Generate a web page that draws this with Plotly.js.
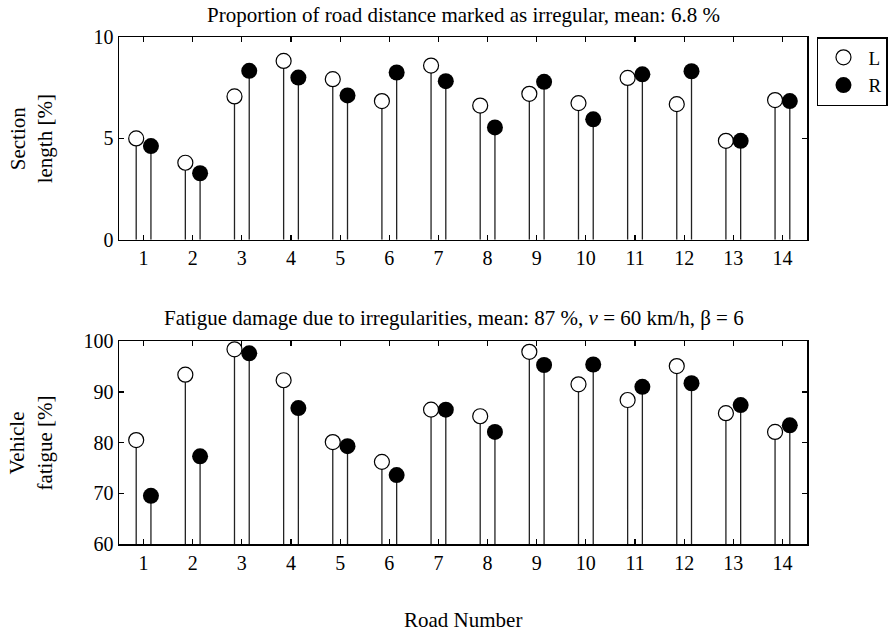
<!DOCTYPE html>
<html>
<head>
<meta charset="utf-8">
<script src="https://cdn.plot.ly/plotly-3.0.1.min.js"></script>
<style>html,body{margin:0;padding:0;background:#fff;}#chart{width:891px;height:633px;}</style>
</head>
<body>
<div id="chart"></div>
<script>
// Road numbers
const roads = [1,2,3,4,5,6,7,8,9,10,11,12,13,14];
// Section length [%] (top panel)
const sectionL = [5.0, 3.8, 7.07, 8.82, 7.92, 6.84, 8.59, 6.62, 7.2, 6.74, 7.98, 6.69, 4.88, 6.89];
const sectionR = [4.62, 3.28, 8.33, 8.0, 7.12, 8.25, 7.82, 5.54, 7.79, 5.94, 8.16, 8.31, 4.88, 6.84];
// Vehicle fatigue [%] (bottom panel)
const fatigueL = [80.5, 93.4, 98.4, 92.3, 80.1, 76.2, 86.5, 85.2, 97.9, 91.5, 88.4, 95.1, 85.8, 82.1];
const fatigueR = [69.5, 77.3, 97.6, 86.8, 79.3, 73.6, 86.5, 82.1, 95.3, 95.4, 91.0, 91.7, 87.4, 83.4];
const topBase = 0, bottomBase = 60;
const offset = 0.15;

const FONT = "'Liberation Serif', 'Times New Roman', serif";
const FS = 20;
const TFS = 21;
const xL = roads.map(r => r - offset);
const xR = roads.map(r => r + offset);

function stemTrace(x, y, base, name, filled, xa, ya, show) {
  return {
    type: 'scatter', mode: 'markers', x: x, y: y, name: name,
    xaxis: xa, yaxis: ya, showlegend: show, cliponaxis: false,
    marker: {symbol: 'circle', size: filled ? 16 : 15,
             color: filled ? '#000' : '#fff',
             line: {color: '#000', width: filled ? 0 : 1.2}},
    error_y: {type: 'data', symmetric: false,
              array: y.map(() => 0), arrayminus: y.map(v => v - base),
              width: 0, thickness: 1.3, color: '#222'}
  };
}

const data = [
  stemTrace(xL, sectionL, topBase, 'L', false, 'x', 'y', true),
  stemTrace(xR, sectionR, topBase, 'R', true, 'x', 'y', true),
  stemTrace(xL, fatigueL, bottomBase, 'L', false, 'x2', 'y2', false),
  stemTrace(xR, fatigueR, bottomBase, 'R', true, 'x2', 'y2', false)
];

const axisCommon = {
  showline: true, linecolor: '#000', linewidth: 1.5, mirror: 'ticks',
  ticks: 'inside', ticklen: 5, tickwidth: 1.2, tickcolor: '#000',
  showgrid: false, zeroline: false,
  tickfont: {family: FONT, size: FS, color: '#000'}
};

const layout = {
  width: 891, height: 633,
  margin: {l: 119, r: 84, t: 37, b: 89, autoexpand: false},
  paper_bgcolor: '#fff', plot_bgcolor: '#fff',
  font: {family: FONT, size: FS, color: '#000'},
  showlegend: true,
  legend: {x: 1.0145, y: 1, xanchor: 'left', yanchor: 'top',
           bordercolor: '#000', borderwidth: 1.5, bgcolor: '#fff',
           font: {family: FONT, size: 19, color: '#000'}, tracegroupgap: 0, itemwidth: 40},
  xaxis: Object.assign({}, axisCommon, {anchor: 'y', range: [0.5, 14.5], tickvals: roads, ticktext: roads.map(String)}),
  yaxis: Object.assign({}, axisCommon, {domain: [0.6, 1], range: [0, 10], tickvals: [0, 5, 10]}),
  xaxis2: Object.assign({}, axisCommon, {anchor: 'y2', range: [0.5, 14.5], tickvals: roads, ticktext: roads.map(String)}),
  yaxis2: Object.assign({}, axisCommon, {domain: [0, 0.4], range: [60, 100], tickvals: [60, 70, 80, 90, 100]}),
  annotations: [
    {text: 'Proportion of road distance marked as irregular, mean: 6.8 %', xref: 'paper', yref: 'paper',
     x: 0.5, y: 1.0438, xanchor: 'center', yanchor: 'middle', showarrow: false, font: {family: FONT, size: TFS}},
    {text: 'Fatigue damage due to irregularities, mean: 87 %, <i>v</i> = 60 km/h, β = 6', xref: 'paper', yref: 'paper',
     x: 0.487, y: 0.4465, xanchor: 'center', yanchor: 'middle', showarrow: false, font: {family: FONT, size: TFS}},
    {text: 'Section<br>length [%]', xref: 'paper', yref: 'paper', x: -0.128, y: 0.8, textangle: -90,
     xanchor: 'center', yanchor: 'middle', showarrow: false, font: {family: FONT, size: TFS}},
    {text: 'Vehicle<br>fatigue [%]', xref: 'paper', yref: 'paper', x: -0.128, y: 0.2, textangle: -90,
     xanchor: 'center', yanchor: 'middle', showarrow: false, font: {family: FONT, size: TFS}},
    {text: 'Road Number', xref: 'paper', yref: 'paper', x: 0.5, y: -0.15,
     xanchor: 'center', yanchor: 'middle', showarrow: false, font: {family: FONT, size: TFS}}
  ]
};

Plotly.newPlot('chart', data, layout, {displayModeBar: false, staticPlot: true});
</script>
</body>
</html>
